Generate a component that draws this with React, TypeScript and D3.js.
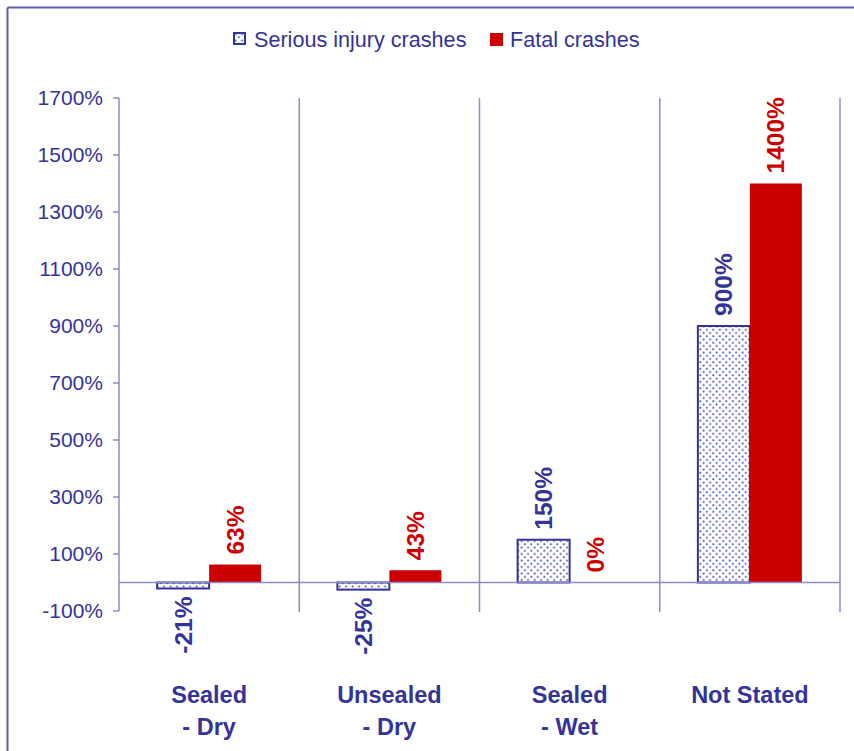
import React from 'react';
import * as d3 from 'd3';

const categories = [['Sealed', '- Dry'], ['Unsealed', '- Dry'], ['Sealed', '- Wet'], ['Not Stated']];
const seriousValues = [-21, -25, 150, 900];
const fatalValues = [63, 43, 0, 1400];
const yTicks = [-100, 100, 300, 500, 700, 900, 1100, 1300, 1500, 1700];
const seriesNames = ['Serious injury crashes', 'Fatal crashes'];

const NAVY = '#333399';
const RED = '#cc0000';
const AXIS = '#8c8cc8';
const FONT = 'Arial, "Liberation Sans", sans-serif';

function App() {
  const width = 854;
  const height = 751;
  const left = 119;
  const right = 840;
  const top = 98;
  const bottom = 611;

  const x = d3.scaleBand<number>()
    .domain(d3.range(categories.length))
    .range([left, right])
    .paddingInner(0)
    .paddingOuter(0);

  const y = d3.scaleLinear().domain([-100, 1700]).range([bottom, top]);

  const barW = 52;
  const y0 = y(0);

  return (
    <svg width={width} height={height} style={{ position: 'absolute', left: 0, top: 0, background: '#fff' }}>
      <defs>
        <pattern id="dots" width="6.5" height="6.5" patternUnits="userSpaceOnUse">
          <rect width="6.5" height="6.5" fill="#fff" />
          <circle cx="1.6" cy="1.6" r="1.05" fill="#5a5ab4" />
          <circle cx="4.85" cy="4.85" r="1.05" fill="#5a5ab4" />
        </pattern>
      </defs>

      {/* frame */}
      <line x1={7.5} x2={width} y1={7.5} y2={7.5} stroke="#5f5fae" strokeWidth={2} />
      <line x1={7.5} x2={7.5} y1={7.5} y2={height} stroke="#5f5fae" strokeWidth={2} />

      {/* legend */}
      <g fontFamily={FONT} fontSize={21.6} fill={NAVY}>
        <rect x={234} y={33} width={11} height={11} fill="url(#dots)" stroke={NAVY} strokeWidth={2} />
        <text x={254} y={46.5}>{seriesNames[0]}</text>
        <rect x={490} y={33} width={13} height={13} fill={RED} />
        <text x={510} y={46.5}>{seriesNames[1]}</text>
      </g>

      {/* category dividers */}
      {categories.map((_, i) => (
        <line key={i} x1={x(i)! + x.bandwidth()} x2={x(i)! + x.bandwidth()} y1={top} y2={bottom + 1}
          stroke={AXIS} strokeWidth={1.5} />
      ))}

      {/* y axis */}
      <line x1={left} x2={left} y1={top} y2={bottom} stroke={AXIS} strokeWidth={1.5} />
      {yTicks.map(t => (
        <g key={t}>
          <line x1={left - 6} x2={left} y1={y(t)} y2={y(t)} stroke={AXIS} strokeWidth={1.5} />
          <text x={103} y={y(t)} dy="0.35em" textAnchor="end" fontFamily={FONT} fontSize={21} fill={NAVY}>
            {t}%
          </text>
        </g>
      ))}

      {/* bars */}
      {categories.map((_, i) => {
        const c = x(i)! + x.bandwidth() / 2;
        const s = seriousValues[i];
        const f = fatalValues[i];
        return (
          <g key={i}>
            <rect x={c - barW} y={Math.min(y(s), y0)} width={barW} height={Math.abs(y(s) - y0)}
              fill="url(#dots)" stroke={NAVY} strokeWidth={2} />
            {f !== 0 && (
              <rect x={c} y={Math.min(y(f), y0)} width={barW} height={Math.abs(y(f) - y0)} fill={RED} />
            )}
          </g>
        );
      })}

      {/* zero line */}
      <line x1={left} x2={right} y1={y0} y2={y0} stroke={AXIS} strokeWidth={1.5} />

      {/* data labels */}
      {categories.map((_, i) => {
        const c = x(i)! + x.bandwidth() / 2;
        const items = [
          { v: seriousValues[i], cx: c - barW / 2, color: NAVY },
          { v: fatalValues[i], cx: c + barW / 2, color: RED },
        ];
        return items.map((d, j) => {
          const neg = d.v < 0;
          const yy = neg ? y(d.v) + 8 : y(d.v) - 10;
          return (
            <text key={`${i}-${j}`} transform={`translate(${d.cx},${yy}) rotate(-90)`}
              textAnchor={neg ? 'end' : 'start'} dy="0.35em"
              fontFamily={FONT} fontWeight="bold" fontSize={24.5} fill={d.color}>
              {d.v}%
            </text>
          );
        });
      })}

      {/* category labels */}
      {categories.map((lines, i) => (
        <text key={i} x={x(i)! + x.bandwidth() / 2} y={703} textAnchor="middle"
          fontFamily={FONT} fontWeight="bold" fontSize={23.5} fill={NAVY}>
          {lines.map((l, k) => (
            <tspan key={k} x={x(i)! + x.bandwidth() / 2} dy={k === 0 ? 0 : 32}>{l}</tspan>
          ))}
        </text>
      ))}
    </svg>
  );
}

export default App;
